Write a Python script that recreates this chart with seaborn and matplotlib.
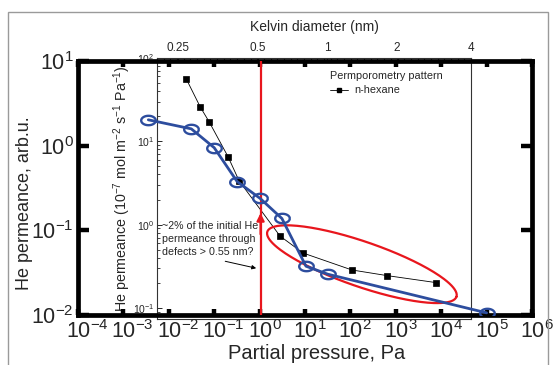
import numpy as np
import matplotlib
matplotlib.use('Agg')
import matplotlib.pyplot as plt
import seaborn as sns
from matplotlib.lines import Line2D
from matplotlib.patches import Rectangle
from matplotlib.transforms import ScaledTranslation
from matplotlib.ticker import FixedLocator, NullFormatter, NullLocator, LogLocator

# ---------------- data ----------------
he_pressure = [3.54e-3, 0.0313, 0.100, 0.32, 1.03, 3.1, 10.5, 32.0, 1.0e5]
he_perm_rel = [2.02, 1.58, 0.946, 0.377, 0.238, 0.138, 0.0377, 0.0303, 0.0106]

hex_pressure = [0.0243, 0.0492, 0.0776, 0.203, 0.354, 2.82, 9.04, 108, 634, 7570]
hex_perm = [56, 25.9, 17.1, 6.5, 3.35, 0.73, 0.457, 0.286, 0.245, 0.202]

kelvin_labels = ['0.25', '0.5', '1', '2', '4']
kelvin_pressure = [0.0162, 0.927, 30.5, 1052, 44500]

outer_xticks = [1e-4, 1e-3, 1e-2, 1e-1, 1e0, 1e1, 1e2, 1e3, 1e4, 1e5, 1e6]
outer_yticks = [1e-2, 1e-1, 1e0, 1e1]
inner_yticks = [1e-1, 1e0, 1e1, 1e2]

RED = '#e8161d'
BLUE = '#2d4d9e'

# ---------------- style ----------------
sns.set_theme(style='ticks')
plt.rcParams['font.family'] = ['Liberation Sans', 'DejaVu Sans']
plt.rcParams['mathtext.default'] = 'regular'
plt.rcParams['axes.unicode_minus'] = False

W, H = 558, 365
fig = plt.figure(figsize=(W / 100, H / 100), dpi=100)
fig.patch.set_facecolor('white')


def frac(l, r, t, b):
    return [l / W, 1 - b / H, (r - l) / W, (b - t) / H]


OX = (78, 532, 61, 315)
IX = (157, 471, 58, 319)
ax_in = fig.add_axes(frac(*IX))
ax = fig.add_axes(frac(*OX))
ax.patch.set_alpha(0)

# ---------------- outer axes ----------------
ax.set_xscale('log')
ax.set_yscale('log')
xlo, xhi = 1e-4, 1e6
ylo, yhi = 1e-2, 1e1
ax.set_xlim(xlo, xhi)
ax.set_ylim(ylo, yhi)

pxdec_x = (OX[1] - OX[0]) / (np.log10(xhi) - np.log10(xlo))
pxdec_y = (OX[3] - OX[2]) / (np.log10(yhi) - np.log10(ylo))
ix_lo = 10 ** (np.log10(xlo) + (IX[0] - OX[0]) / pxdec_x)
ix_hi = 10 ** (np.log10(xlo) + (IX[1] - OX[0]) / pxdec_x)

ell = [(1.55 * np.cos(t), np.sin(t)) for t in np.linspace(0, 2 * np.pi, 61)]
sns.lineplot(x=he_pressure, y=he_perm_rel, ax=ax, sort=False, estimator=None,
             color=BLUE, lw=2.0, marker=ell, markersize=10.5,
             markerfacecolor='none', markeredgecolor=BLUE, markeredgewidth=1.7,
             zorder=5, legend=False)

for s in ax.spines.values():
    s.set_linewidth(3.4)
    s.set_color('black')
    s.set_visible(True)
ax.xaxis.set_major_locator(FixedLocator(outer_xticks))
ax.yaxis.set_major_locator(FixedLocator(outer_yticks))
ax.xaxis.set_minor_locator(NullLocator())
ax.yaxis.set_minor_locator(NullLocator())
ax.set_xticklabels([r'$10^{%d}$' % int(np.log10(v)) for v in outer_xticks])
ax.set_yticklabels([r'$10^{%d}$' % int(np.log10(v)) for v in outer_yticks])
ax.tick_params(axis='x', which='major', direction='in', length=4, width=3.2,
               top=True, bottom=True, labelsize=15.5, pad=4, color='black')
ax.tick_params(axis='y', which='major', direction='in', length=8, width=3.2,
               left=True, right=True, labelsize=15.5, pad=3, color='black')
shift = ScaledTranslation(-12 / 100, 0, fig.dpi_scale_trans)
for lab in ax.get_xticklabels():
    lab.set_horizontalalignment('left')
    lab.set_transform(lab.get_transform() + shift)
ax.set_xlabel('Partial pressure, Pa', fontsize=14.5)
ax.xaxis.set_label_coords(0.525, -0.115)
ax.set_ylabel('He permeance, arb.u.', fontsize=13)
ax.yaxis.set_label_coords(-0.10, 0.44)
ax.grid(False)

# red vertical line with arrow
ax.axvline(1.05, color=RED, lw=1.6, zorder=4)
ax.annotate('', xy=(1.05, 0.16), xytext=(1.05, 0.09),
            arrowprops=dict(arrowstyle='-|>', color=RED, lw=1.6,
                            mutation_scale=11, shrinkA=0, shrinkB=0), zorder=4)

# red ellipse
cx, cy = 2.253, -1.40
a_px, b_px, th = 100, 22.5, np.deg2rad(19)
tt = np.linspace(0, 2 * np.pi, 200)
dx = a_px * np.cos(tt) * np.cos(th) - b_px * np.sin(tt) * np.sin(th)
dy = -a_px * np.cos(tt) * np.sin(th) - b_px * np.sin(tt) * np.cos(th)
ax.plot(10 ** (cx + dx / pxdec_x), 10 ** (cy + dy / pxdec_y), color=RED, lw=1.6, zorder=3)

# annotation text
ax.text(0.0072, 0.128, '~2% of the initial He\npermeance through\ndefects > 0.55 nm?',
        fontsize=7.7, ha='left', va='top', linespacing=1.33, zorder=6)
ax.annotate('', xy=(0.84, 0.0357), xytext=(0.175, 0.0431),
            arrowprops=dict(arrowstyle='-|>', color='black', lw=0.7,
                            mutation_scale=6, shrinkA=0, shrinkB=0))

# ---------------- inner axes ----------------
ax_in.set_xscale('log')
ax_in.set_yscale('log')
ax_in.set_xlim(ix_lo, ix_hi)
ax_in.set_ylim(0.0738, 100)
sns.lineplot(x=hex_pressure, y=hex_perm, ax=ax_in, sort=False, estimator=None,
             color='black', lw=0.6, marker='s', markersize=4.2,
             markerfacecolor='black', markeredgecolor='black', markeredgewidth=0.5,
             legend=False, zorder=3)
for s in ax_in.spines.values():
    s.set_linewidth(0.8)
    s.set_color('#333333')
ax_in.grid(False)
ax_in.set_facecolor('white')

ax_in.yaxis.set_major_locator(FixedLocator(inner_yticks))
ax_in.yaxis.set_minor_locator(LogLocator(base=10, subs=np.arange(2, 10)))
ax_in.yaxis.set_minor_formatter(NullFormatter())
ax_in.set_yticklabels([r'$10^{%d}$' % int(np.log10(v)) for v in inner_yticks])
ax_in.tick_params(axis='y', which='major', direction='in', length=3.5, width=0.7,
                  left=True, right=False, labelsize=7.5, pad=2)
ax_in.tick_params(axis='y', which='minor', direction='in', length=2, width=0.6,
                  left=True, right=False)

ax_in.xaxis.set_major_locator(FixedLocator(kelvin_pressure))
ax_in.xaxis.set_minor_locator(FixedLocator(np.logspace(np.log10(ix_lo), np.log10(ix_hi), 48)))
ax_in.xaxis.set_minor_formatter(NullFormatter())
ax_in.set_xticklabels(kelvin_labels)
ax_in.tick_params(axis='x', which='major', direction='in', length=3, width=0.7,
                  top=True, bottom=False, labeltop=True, labelbottom=False,
                  labelsize=8.5, pad=3)
ax_in.tick_params(axis='x', which='minor', direction='in', length=2.5, width=0.8,
                  top=True, bottom=False)
ax_in.xaxis.set_label_position('top')
ax_in.set_xlabel('Kelvin diameter (nm)', fontsize=10, labelpad=8)
ax_in.set_ylabel(r'He permeance (10$^{-7}$ mol m$^{-2}$ s$^{-1}$ Pa$^{-1}$)',
                 fontsize=10.3, labelpad=0)

handle = Line2D([], [], color='black', lw=0.6, marker='s', markersize=3.5,
                markerfacecolor='black', markeredgecolor='black')
ax_in.legend(handles=[handle], labels=['n-hexane'], title='Permporometry pattern',
             loc='upper left', bbox_to_anchor=(330 / W, 1 - 71 / H),
             bbox_transform=fig.transFigure, frameon=False, fontsize=7.8,
             title_fontsize=7.8, alignment='left', handlelength=1.7,
             handletextpad=0.5, borderpad=0, borderaxespad=0, labelspacing=0.4)

# grey figure border
fig.patches.append(Rectangle((8 / W, -0.1), (548 - 8) / W, (1 - 12 / H) + 0.1,
                             transform=fig.transFigure, fill=False,
                             edgecolor='#9a9a9a', lw=1.0))

fig.savefig('out.png', dpi=100)
